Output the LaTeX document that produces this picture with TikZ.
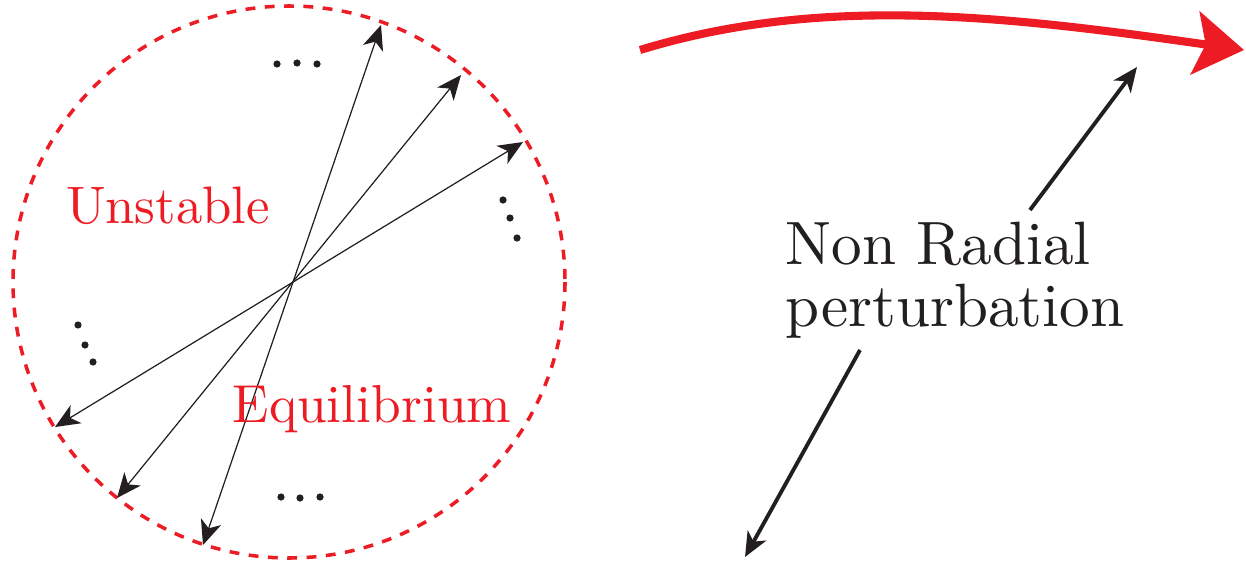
\documentclass[tikz,border=0pt]{standalone}
\usetikzlibrary{arrows.meta}
\definecolor{pertred}{RGB}{237,28,36}
\definecolor{inkblack}{RGB}{35,31,32}

\begin{document}
\begin{tikzpicture}[x=0.01cm, y=-0.01cm, >={Stealth[length=7pt, width=6pt, inset=2pt]}]

\useasboundingbox (0,0) rectangle (1246,564);

% Star boundary (dashed circle)
\draw[pertred, line width=1pt, dash pattern=on 2.8pt off 2.7pt] (289,282) circle (276);

% Centre of the star
\coordinate (c) at (290,285);

% Radial double arrows through the centre
\foreach \ax/\ay/\bx/\by in {381/25/203/545, 461/75/117/498, 523/142/55/427} {
  \draw[<->, inkblack, line width=0.35pt] (\bx,\by) -- (\ax,\ay);
}

% Dots between the arrows
\foreach \x/\y in {277/64, 297/63, 317/64, 281/497, 300/498, 320/497,
                   503/200, 510/218, 517/238, 78/325, 85/345, 93/362} {
  \fill[inkblack] (\x,\y) circle (3.6);
}

% Labels inside the star
\node[pertred, scale=1.5, transform shape] (unst) at (168,206) {Unstable};
\node[pertred, scale=1.52, transform shape] (equi) at (372,409) {Equilibrium};

% Big red arrow
\draw[pertred, line width=2.3pt, -{Stealth[length=14pt, width=18pt, inset=3pt]}]
  (640,50) .. controls (820,-5) and (1000,15) .. (1244,50);

% Label on the right
\node[inkblack, align=left, scale=1.74, transform shape,
      font=\fontsize{10}{10.1}\selectfont] (pert) at (955,280)
  {Non Radial\\perturbation};

% Perturbation arrows
\coordinate (ptop) at (1137,67);
\coordinate (pbot) at (745,557);
\draw[->, inkblack, line width=1.1pt] (1030,210) -- (ptop);
\draw[->, inkblack, line width=1.1pt] (860,350) -- (pbot);

\end{tikzpicture}
\end{document}
